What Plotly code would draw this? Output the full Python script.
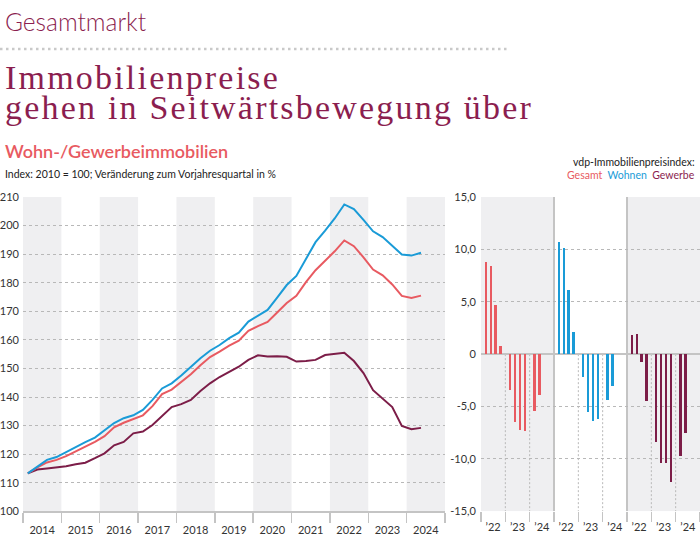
import plotly.graph_objects as go

# ---------------- data ----------------
years = list(range(2014, 2025))
quarter_labels = [f"{y} Q{q}" for y in range(2014, 2024) for q in range(1, 5)] + ["2024 Q1", "2024 Q2"]

gesamt_index = [113.3, 115.4, 117.1, 118.0,
                119.3, 121.0, 122.8, 124.3,
                126.3, 129.4, 131.0, 132.3,
                133.6, 136.8, 141.0, 142.6,
                145.2, 148.0, 151.1, 154.0,
                155.9, 158.0, 159.7, 163.2,
                164.8, 166.3, 169.6, 172.9,
                175.4, 180.2, 184.4, 187.8,
                191.0, 194.8, 192.8, 188.9,
                184.6, 182.6, 179.4, 175.4,
                174.7, 175.5]
wohnen_index = [113.3, 115.7, 118.0, 119.0,
                120.8, 122.5, 124.2, 125.8,
                128.2, 130.9, 132.6, 133.6,
                135.5, 139.0, 143.0, 144.8,
                147.5, 150.5, 153.6, 156.2,
                158.2, 160.6, 162.5, 166.4,
                168.5, 170.5, 174.8, 179.2,
                182.4, 188.4, 194.2, 198.2,
                202.5, 207.4, 205.8, 202.0,
                198.0, 196.0, 193.0, 189.9,
                189.5, 190.5]
gewerbe_index = [113.3, 114.6, 115.0, 115.4,
                 115.8, 116.5, 117.0, 118.6,
                 120.3, 123.1, 124.3, 127.3,
                 127.9, 130.2, 133.3, 136.5,
                 137.5, 139.0, 142.1, 144.8,
                 147.0, 148.8, 150.6, 153.0,
                 154.6, 154.2, 154.3, 154.1,
                 152.4, 152.6, 153.0, 154.7,
                 155.2, 155.5, 152.6, 148.4,
                 142.4, 139.5, 136.5, 129.9,
                 128.7, 129.2]

bar_quarters = ["2022 Q1", "2022 Q2", "2022 Q3", "2022 Q4",
                "2023 Q1", "2023 Q2", "2023 Q3", "2023 Q4",
                "2024 Q1", "2024 Q2"]
gesamt_yoy = [8.8, 8.4, 4.7, 0.8, -3.4, -6.5, -7.2, -7.3, -5.4, -3.9]
wohnen_yoy = [10.7, 10.1, 6.1, 2.1, -2.2, -5.5, -6.4, -6.2, -4.4, -3.0]
gewerbe_yoy = [1.8, 1.9, -0.7, -4.5, -8.4, -10.4, -10.4, -12.2, -9.7, -7.5]

bar_year_labels = ["\u201922", "\u201923", "\u201924"]
right_tick_vals = [-15, -10, -5, 0, 5, 10, 15]
right_tick_text = ["-15,0", "-10,0", "-5,0", "0", "5,0", "10,0", "15,0"]

C_GES = "#e85a61"
C_WOH = "#1a9bd7"
C_GEW = "#7c1d48"
C_TITLE = "#8b1e4f"
GRID = "#b8b8b8"
BAND = "#efeff1"
AXC = "#c4c4c4"
TXT = "#333333"
FONT = "Lato"

W, H = 700, 542


def qpos(lbl):
    y, q = lbl.split(" Q")
    return int(y) + (int(q) - 0.5) / 4


x_line = [qpos(l) for l in quarter_labels]


def bar_x(lbl, panel):
    y, q = lbl.split(" Q")
    return panel * 15 + (int(y) - 2022) * 5 + int(q)


fig = go.Figure()

for name, vals, col in [("Gewerbe", gewerbe_index, C_GEW),
                        ("Gesamt", gesamt_index, C_GES),
                        ("Wohnen", wohnen_index, C_WOH)]:
    fig.add_trace(go.Scatter(x=x_line, y=vals, mode="lines", name=name,
                             line=dict(color=col, width=2), xaxis="x", yaxis="y",
                             showlegend=False, hoverinfo="skip"))

for p, (name, vals, col) in enumerate([("Gesamt", gesamt_yoy, C_GES),
                                       ("Wohnen", wohnen_yoy, C_WOH),
                                       ("Gewerbe", gewerbe_yoy, C_GEW)]):
    fig.add_trace(go.Bar(x=[bar_x(l, p) for l in bar_quarters], y=vals, name=name,
                         marker=dict(color=col, line=dict(width=0)), width=0.5,
                         xaxis="x2", yaxis="y2", showlegend=False, hoverinfo="skip"))

ydom = [1 - 516.7 / H, 1 - 194.7 / H]

shapes = []
# alternating year bands in left chart
for i, y in enumerate(years):
    if i % 2 == 0:
        shapes.append(dict(type="rect", xref="x", yref="y", x0=y, x1=y + 1, y0=100, y1=210,
                           fillcolor=BAND, line=dict(width=0), layer="below"))
# right panel backgrounds
for p in (0, 2):
    shapes.append(dict(type="rect", xref="x2", yref="y2", x0=p * 15, x1=p * 15 + 15, y0=-15, y1=15,
                       fillcolor=BAND, line=dict(width=0), layer="below"))
# dotted year dividers below zero
for p in range(3):
    for k in (5, 10):
        shapes.append(dict(type="line", xref="x2", yref="y2", x0=p * 15 + k, x1=p * 15 + k,
                           y0=0, y1=-15, line=dict(color=GRID, width=1, dash="2px,2px"), layer="below"))
# panel separators
for k in (15, 30):
    shapes.append(dict(type="line", xref="x2", yref="y2", x0=k, x1=k, y0=-15, y1=15,
                       line=dict(color=AXC, width=2), layer="below"))
# dotted rule under kicker
shapes.append(dict(type="line", xref="paper", yref="paper", x0=0, x1=507 / W, y0=1 - 43 / H, y1=1 - 43 / H,
                   line=dict(color="#c9c9c9", width=2.5, dash="2.5px,3.5px")))

SERIF = "Liberation Serif"
annotations = [
    dict(text="Gesamtmarkt", x=3 / W, y=1 - 15 / H, xanchor="left", yanchor="middle",
         font=dict(family=FONT, size=24.5, color=C_TITLE, weight=300)),
    dict(text="<span style='letter-spacing:2.2px'>Immobilienpreise</span>", x=3 / W, y=1 - 72 / H,
         xanchor="left", yanchor="middle",
         font=dict(family=SERIF, size=34, color=C_TITLE)),
    dict(text="<span style='letter-spacing:2.2px'>gehen in Seitwärtsbewegung über</span>", x=3 / W,
         y=1 - 103 / H, xanchor="left", yanchor="middle",
         font=dict(family=SERIF, size=34, color=C_TITLE)),
    dict(text="Wohn-/Gewerbeimmobilien", x=3 / W, y=1 - 148 / H, xanchor="left", yanchor="middle",
         font=dict(family=FONT, size=18, color=C_GES, weight=600)),
    dict(text="Index: 2010 = 100; Veränderung zum Vorjahresquartal in %", x=3 / W, y=1 - 171 / H,
         xanchor="left", yanchor="middle", font=dict(family=FONT, size=10.5, color="#222222")),
    dict(text="vdp-Immobilienpreisindex:", x=697 / W, y=1 - 159 / H, xanchor="right", yanchor="middle",
         font=dict(family=FONT, size=10.5, color="#222222")),
    dict(text=(f"<span style='color:{C_GES}'>Gesamt</span>  "
               f"<span style='color:{C_WOH}'>Wohnen</span>  "
               f"<span style='color:{C_TITLE}'>Gewerbe</span>"),
         x=697 / W, y=1 - 172 / H, xanchor="right", yanchor="middle",
         font=dict(family=FONT, size=10.5)),
]
for a in annotations:
    a.update(xref="paper", yref="paper", showarrow=False)

fig.update_layout(
    width=W, height=H,
    margin=dict(l=0, r=0, t=0, b=0),
    paper_bgcolor="white", plot_bgcolor="rgba(0,0,0,0)",
    bargap=0,
    shapes=shapes, annotations=annotations,
    xaxis=dict(domain=[23 / W, 445 / W], range=[2014, 2025], anchor="y",
               tickmode="array", tickvals=[y + 0.5 for y in years], ticktext=[str(y) for y in years],
               ticks="", showgrid=False, zeroline=False,
               showline=True, linecolor=AXC, linewidth=1.5,
               ticklabelstandoff=8,
               tickfont=dict(family=FONT, size=11, color=TXT),
               minor=dict(tickmode="array", tickvals=list(range(2014, 2026)), ticks="outside",
                          ticklen=10, tickcolor=AXC, tickwidth=1.5, showgrid=False)),
    yaxis=dict(domain=ydom, range=[100, 210], anchor="x", dtick=10, tick0=100,
               showgrid=True, gridcolor=GRID, griddash="dot", gridwidth=1,
               zeroline=False, ticks="", ticklabelstandoff=3,
               tickfont=dict(family=FONT, size=11, color=TXT)),
    xaxis2=dict(domain=[481 / W, 1.0], range=[0, 45], anchor="y2",
                tickmode="array", tickvals=[p * 15 + k * 5 + 2.5 for p in range(3) for k in range(3)],
                ticktext=bar_year_labels * 3,
                ticks="", showgrid=False, zeroline=False, showline=False,
                ticklabelstandoff=8,
                tickfont=dict(family=FONT, size=11, color=TXT),
                minor=dict(tickmode="array", tickvals=list(range(0, 46, 5)), ticks="outside",
                           ticklen=10, tickcolor=AXC, tickwidth=1.5, showgrid=False)),
    yaxis2=dict(domain=ydom, range=[-15, 15], anchor="x2",
                tickmode="array", tickvals=right_tick_vals, ticktext=right_tick_text,
                showgrid=True, gridcolor=GRID, griddash="dot", gridwidth=1,
                zeroline=True, zerolinecolor=AXC, zerolinewidth=2,
                ticks="", ticklabelstandoff=4,
                tickfont=dict(family=FONT, size=11, color=TXT)),
)

fig.write_html("out.html",
               config={"displayModeBar": False, "staticPlot": True},
               post_script="document.body.style.margin='0';document.body.style.overflow='hidden';")
